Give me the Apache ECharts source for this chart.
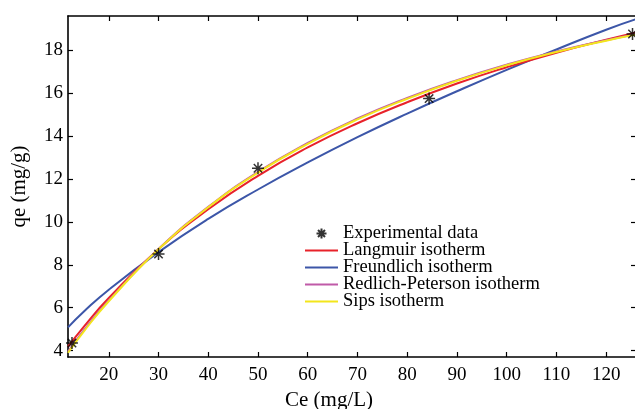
<!DOCTYPE html>
<html>
<head>
<meta charset="utf-8">
<script src="https://cdn.jsdelivr.net/npm/echarts@6/dist/echarts.min.js"></script>
<style>html,body{margin:0;padding:0;background:#fff}#c{width:635px;height:409px}</style>
</head>
<body>
<div id="c"></div>
<script>
// Data
const xTicks = [20, 30, 40, 50, 60, 70, 80, 90, 100, 110, 120];
const yTicks = [4, 6, 8, 10, 12, 14, 16, 18];
const expCe = [12.6, 30, 50, 84.4, 125.3];
const expQe = [4.35, 8.5, 12.5, 15.75, 18.76];
const curveCe = [11.8, 15, 20, 30, 40, 50, 60, 70, 80, 90, 100, 110, 120, 126];
const langmuir = [4.18, 5.12, 6.45, 8.73, 10.59, 12.15, 13.47, 14.60, 15.58, 16.45, 17.21, 17.89, 18.49, 18.83];
const freundlich = [5.08, 5.82, 6.84, 8.59, 10.14, 11.51, 12.77, 13.95, 15.05, 16.09, 17.09, 18.04, 18.96, 19.45];
const redlichPeterson = [3.95, 4.95, 6.34, 8.74, 10.70, 12.33, 13.68, 14.82, 15.78, 16.61, 17.33, 17.95, 18.47, 18.76];
const sips = [3.90, 4.90, 6.30, 8.72, 10.68, 12.30, 13.64, 14.78, 15.74, 16.58, 17.30, 17.92, 18.45, 18.73];
const legendNames = ['Experimental data', 'Langmuir isotherm', 'Freundlich isotherm', 'Redlich-Peterson isotherm', 'Sips isotherm'];

const zip = (xs, ys) => xs.map((x, i) => [x, ys[i]]);
const FONT = 'Liberation Serif';
const star = 'path://M5,0L5,10M0,5L10,5M1.5,1.5L8.5,8.5M8.5,1.5L1.5,8.5';

const xBase = {
  type: 'value', min: 11.8, max: 126,
  splitLine: {show: false},
  axisLine: {lineStyle: {color: '#000', width: 1.6}},
  axisTick: {inside: true, length: 5, customValues: xTicks, lineStyle: {color: '#000', width: 1.2}},
};
const yBase = {
  type: 'value', min: 3.7, max: 19.6,
  splitLine: {show: false},
  axisLine: {lineStyle: {color: '#000', width: 1.6}},
  axisTick: {inside: true, length: 5, customValues: yTicks, lineStyle: {color: '#000', width: 1.2}},
};

const lineSeries = (name, data, color) => ({
  name, type: 'line', data: zip(curveCe, data), smooth: true, symbol: 'none',
  lineStyle: {color, width: 2}, itemStyle: {color}, z: 2
});

const chart = echarts.init(document.getElementById('c'), null, {renderer: 'canvas'});
chart.setOption({
  animation: false,
  backgroundColor: '#fff',
  grid: {left: 68, right: -1, top: 16, bottom: 52, outerBoundsMode: 'none', containLabel: false},
  xAxis: [
    Object.assign({}, xBase, {
      position: 'bottom',
      name: 'Ce (mg/L)', nameLocation: 'middle', nameGap: 27,
      nameTextStyle: {fontFamily: FONT, fontSize: 21, color: '#000', padding: [0, 46, 0, 0]},
      axisLabel: {customValues: xTicks, fontFamily: FONT, fontSize: 19, color: '#000', margin: 9}
    }),
    Object.assign({}, xBase, {position: 'top', axisLabel: {show: false}})
  ],
  yAxis: [
    Object.assign({}, yBase, {
      position: 'left',
      name: 'qe (mg/g)', nameLocation: 'middle', nameGap: 38,
      nameTextStyle: {fontFamily: FONT, fontSize: 21, color: '#000'},
      axisLabel: {customValues: yTicks, fontFamily: FONT, fontSize: 19, color: '#000', margin: 5}
    }),
    Object.assign({}, yBase, {position: 'right', axisLabel: {show: false}})
  ],
  legend: {
    orient: 'vertical', left: 299, top: 219,
    itemWidth: 33, itemHeight: 10, itemGap: -2,
    textStyle: {fontFamily: FONT, fontSize: 18.5, color: '#000', lineHeight: 17},
    data: legendNames.map((n, i) => i === 0 ? {name: n} : {name: n, itemStyle: {opacity: 0}})
  },
  series: [
    lineSeries('Freundlich isotherm', freundlich, '#3c56a8'),
    lineSeries('Langmuir isotherm', langmuir, '#e8222a'),
    lineSeries('Redlich-Peterson isotherm', redlichPeterson, '#c05aa8'),
    lineSeries('Sips isotherm', sips, '#f3e61c'),
    {
      name: 'Experimental data', type: 'scatter', data: zip(expCe, expQe),
      symbol: star, symbolSize: 12, z: 5,
      itemStyle: {color: 'transparent', borderColor: '#000', borderWidth: 1.5}
    }
  ]
});
</script>
</body>
</html>
